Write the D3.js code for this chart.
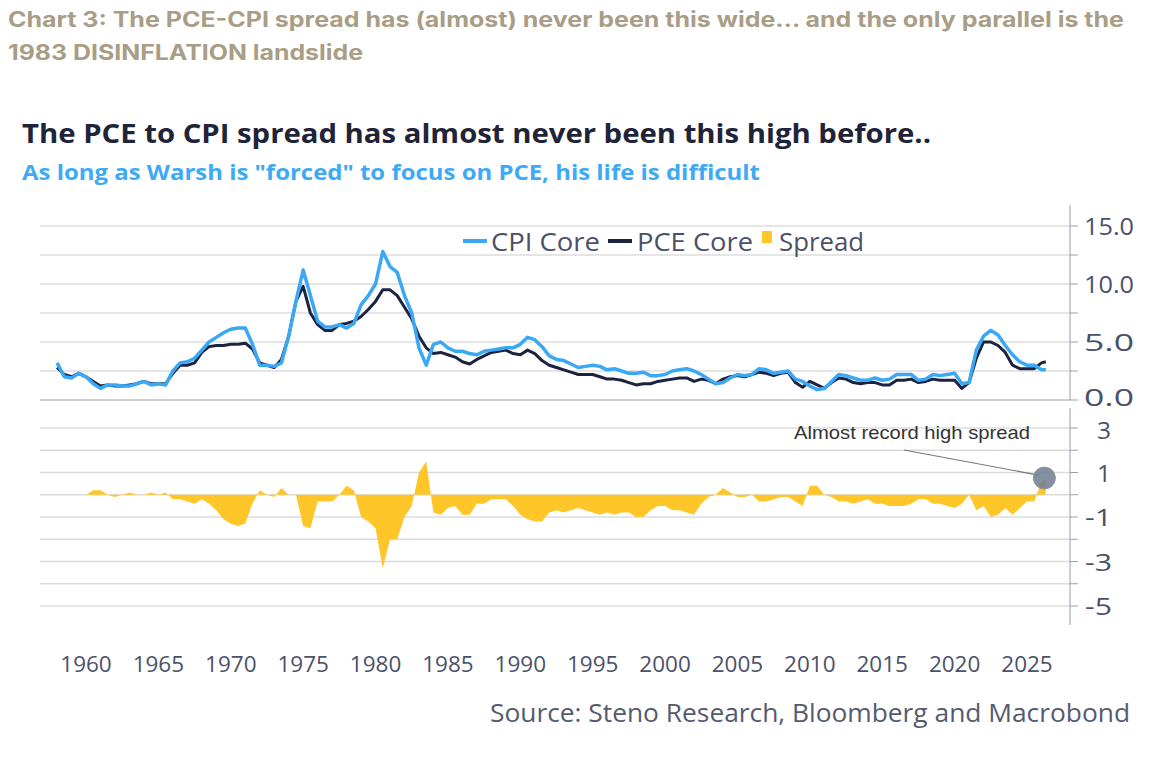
<!DOCTYPE html>
<html><head><meta charset="utf-8">
<script src="https://cdn.jsdelivr.net/npm/d3@7"></script>
<style>body{margin:0;background:#fff}svg{display:block}</style>
</head><body>
<script>
// half-year observations 1958.0 .. 2026.0, plus latest point
const years = d3.range(1958, 2026.01, 0.5).concat([2026.3]);
const cpiCore = [3.2,2.0,1.9,2.3,2.0,1.4,1.0,1.3,1.3,1.2,1.2,1.4,1.6,1.3,1.4,1.3,2.5,3.2,3.3,3.6,
 4.3,5.0,5.4,5.8,6.1,6.2,6.2,4.8,3.0,3.0,2.9,3.2,5.5,8.5,11.2,9.0,6.8,6.3,6.3,6.5,
 6.2,6.6,8.2,9.0,10.0,12.8,11.5,11.0,9.0,7.5,4.5,3.0,4.8,5.0,4.5,4.2,4.2,4.0,3.9,4.2,
 4.3,4.4,4.5,4.5,4.8,5.4,5.2,4.6,3.8,3.5,3.4,3.1,2.8,2.9,3.0,2.9,2.6,2.7,2.5,2.3,
 2.3,2.4,2.1,2.1,2.2,2.5,2.6,2.7,2.5,2.2,1.8,1.4,1.5,1.9,2.2,2.1,2.2,2.7,2.6,2.3,
 2.4,2.5,1.8,1.6,1.2,0.9,1.0,1.6,2.2,2.1,1.9,1.7,1.7,1.9,1.7,1.8,2.2,2.2,2.2,1.7,
 1.8,2.2,2.1,2.2,2.3,1.4,1.5,4.3,5.5,6.0,5.6,4.7,3.9,3.3,3.0,3.0,2.6,2.6];
const pceCore = [2.8,2.2,2.0,2.3,2.0,1.6,1.2,1.3,1.2,1.2,1.3,1.4,1.6,1.4,1.4,1.4,2.3,3.0,3.0,3.2,
 4.1,4.6,4.7,4.7,4.8,4.8,4.9,4.4,3.2,3.0,2.8,3.5,5.5,8.5,9.8,7.5,6.5,6.0,6.0,6.5,
 6.6,6.8,7.2,7.8,8.5,9.5,9.5,9.0,8.0,7.0,5.5,4.5,4.0,4.1,3.9,3.7,3.3,3.1,3.5,3.8,
 4.1,4.2,4.3,4.0,3.9,4.3,4.0,3.4,3.0,2.8,2.6,2.4,2.2,2.2,2.2,2.0,1.8,1.8,1.7,1.5,
 1.3,1.4,1.4,1.6,1.7,1.8,1.9,1.9,1.6,1.8,1.7,1.4,1.8,2.0,2.1,2.0,2.2,2.4,2.3,2.1,
 2.3,2.4,1.5,1.1,1.6,1.3,1.0,1.5,1.9,1.8,1.5,1.4,1.5,1.5,1.3,1.3,1.7,1.7,1.8,1.5,
 1.6,1.8,1.7,1.7,1.7,1.0,1.5,3.6,5.0,5.0,4.7,4.1,3.0,2.7,2.7,2.7,3.2,3.3];
const topTicks = [0,5,10,15];
const botTicks = [-5,-3,-1,1,3];
const xTicks = d3.range(1960, 2026, 5);
const spreadStart = 1959.5;

const W=1156,H=768;
const svg=d3.select("body").append("svg").attr("width",W).attr("height",H);
const font="'Open Sans', sans-serif";
function txt(x,y,s,size,fill,weight,len,fam,anchor){
  const t=svg.append("text").attr("x",x).attr("y",y).attr("font-family",fam||font).attr("font-size",size)
   .attr("fill",fill).attr("font-weight",weight||400).attr("text-anchor",anchor||"start").text(s);
  if(len) t.attr("textLength",len).attr("lengthAdjust","spacingAndGlyphs");
  return t;
}
txt(8,27,"Chart 3: The PCE-CPI spread has (almost) never been this wide… and the only parallel is the",21,"#a99d86",700,1116,"Inter, sans-serif");
txt(8,60,"1983 DISINFLATION landslide",21,"#a99d86",700,355,"Inter, sans-serif");
txt(22,143,"The PCE to CPI spread has almost never been this high before..",27,"#1f2438",700,909);
txt(22,180,"As long as Warsh is \"forced\" to focus on PCE, his life is difficult",21,"#3ea9f5",700,738);

const x=d3.scaleLinear().domain([1960,2025]).range([86,1027]);
const yT=d3.scaleLinear().domain([0,15]).range([400,226]);
const yB=d3.scaleLinear().domain([-5,3]).range([606,428]);
const gx0=40,gx1=1070;
const grid=svg.append("g").attr("stroke","#dcdcdc").attr("stroke-width",1.5);
d3.range(0,15.1,2.5).forEach(v=>grid.append("line").attr("x1",gx0).attr("x2",gx1).attr("y1",yT(v)).attr("y2",yT(v)));
d3.range(-5,3.1,1).forEach(v=>grid.append("line").attr("x1",gx0).attr("x2",gx1).attr("y1",yB(v)).attr("y2",yB(v)));
svg.append("line").attr("x1",gx0).attr("x2",gx1).attr("y1",yT(0)).attr("y2",yT(0)).attr("stroke","#c8c8c8").attr("stroke-width",1.5);

const axC="#9aa0ae";
svg.append("line").attr("x1",gx1).attr("x2",gx1).attr("y1",205).attr("y2",400).attr("stroke",axC);
svg.append("line").attr("x1",gx1).attr("x2",gx1).attr("y1",408).attr("y2",625).attr("stroke",axC);
d3.range(0,15.1,2.5).forEach(v=>svg.append("line").attr("x1",gx1).attr("x2",gx1+8).attr("y1",yT(v)).attr("y2",yT(v)).attr("stroke",axC));
d3.range(-5,3.1,1).forEach(v=>svg.append("line").attr("x1",gx1).attr("x2",gx1+8).attr("y1",yB(v)).attr("y2",yB(v)).attr("stroke",axC));
const lblC="#4b5169";
topTicks.forEach(v=>txt(1084,yT(v)+(v===0?6:9),d3.format(".1f")(v),23,lblC,400,50));
botTicks.forEach(v=>txt(v<0?1085:1097,yB(v)+(v===3?11:9),v<0?"-"+Math.abs(v):String(v),23,lblC,400,v<0?27:14));
xTicks.forEach(v=>txt(x(v),672,String(v),22.5,lblC,400,null,null,"middle"));

const sp=years.map((yr,i)=>({yr,v:pceCore[i]-cpiCore[i]})).filter(d=>d.yr>=spreadStart);
svg.append("path").datum(sp).attr("fill","#ffc629")
 .attr("d",d3.area().x(d=>x(d.yr)).y0(yB(0)).y1(d=>yB(d.v)));

const ln=arr=>d3.line().x((d,i)=>x(years[i])).y(d=>yT(d))(arr);
svg.append("path").attr("d",ln(pceCore)).attr("fill","none").attr("stroke","#1c2340").attr("stroke-width",3).attr("stroke-linejoin","round");
svg.append("path").attr("d",ln(cpiCore)).attr("fill","none").attr("stroke","#3aa8f5").attr("stroke-width",3.5).attr("stroke-linejoin","round");

const lg=svg.append("g");
lg.append("rect").attr("x",463).attr("y",239).attr("width",24).attr("height",4).attr("fill","#3aa8f5");
txt(491,251,"CPI Core",25,"#4b5169",400,109);
lg.append("rect").attr("x",608).attr("y",239).attr("width",24).attr("height",4).attr("fill","#1c2340");
txt(637,251,"PCE Core",25,"#4b5169",400,116);
lg.append("rect").attr("x",762).attr("y",231).attr("width",10).attr("height",12).attr("fill","#ffc629");
txt(779,251,"Spread",25,"#4b5169",400,85);

const ax=x(2026.2),ay=yB(0.75);
svg.append("line").attr("x1",904).attr("y1",450).attr("x2",ax-6).attr("y2",ay-3).attr("stroke","#777").attr("stroke-width",1.2);
svg.append("circle").attr("cx",ax).attr("cy",ay).attr("r",11).attr("fill","#6f7d90").attr("fill-opacity",0.85).attr("stroke","#8c96a4");
txt(1030,439,"Almost record high spread",19,"#333",400,236,"'Liberation Sans', Arial, sans-serif","end");

txt(1130,722,"Source: Steno Research, Bloomberg and Macrobond",25,"#555b6e",400,640,null,"end");
</script>
</body></html>
